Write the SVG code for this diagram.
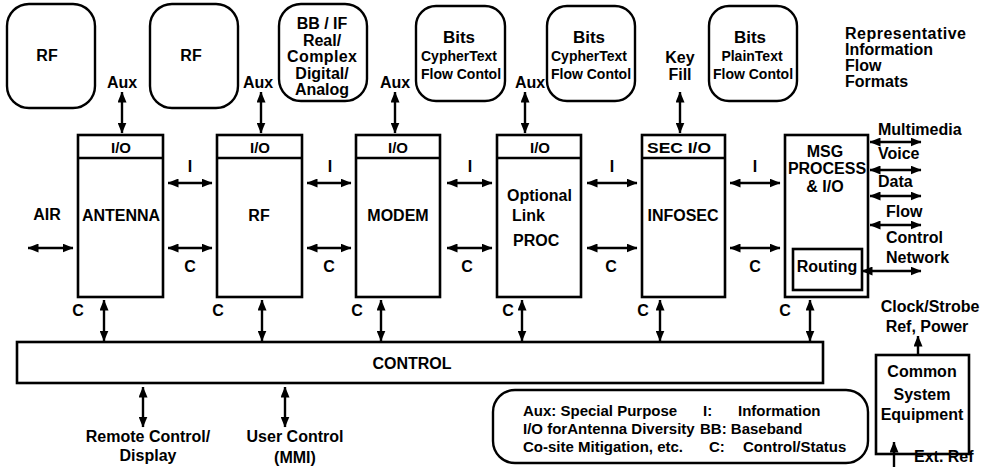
<svg xmlns="http://www.w3.org/2000/svg" width="990" height="467" viewBox="0 0 990 467">
  <style>
    text { font-family: "Liberation Sans", Arial, sans-serif; font-weight: bold; fill: #000; }
    .c { text-anchor: middle; }
    .f14 { font-size: 14px; }
    .f15 { font-size: 15px; }
    .f16 { font-size: 16px; }
    .f17 { font-size: 17px; }
    .box { fill: #fff; stroke: #000; stroke-width: 2.6; }
    .rbox { fill: #fff; stroke: #000; stroke-width: 2.4; }
    .ln { stroke: #000; stroke-width: 2.4; fill: none; }
    .both { marker-start: url(#ah); marker-end: url(#ah); }
    .end { marker-end: url(#ah); }
  </style>
  <defs>
    <marker id="ah" viewBox="0 0 11 9" refX="10.5" refY="4.5" markerWidth="11" markerHeight="9" markerUnits="userSpaceOnUse" orient="auto-start-reverse">
      <path d="M0,0 L11,4.5 L0,9 z" fill="#000"/>
    </marker>
  </defs>
  <rect width="990" height="467" fill="#fff"/>

  <!-- information format boxes along the top -->
  <g id="fmt-rf-1">
    <rect class="rbox" x="7" y="4" width="88" height="104" rx="22"/>
    <text class="f16 c" x="47" y="61">RF</text>
  </g>
  <g id="fmt-rf-2">
    <rect class="rbox" x="150" y="4" width="88" height="104" rx="22"/>
    <text class="f16 c" x="191" y="61">RF</text>
  </g>
  <g id="fmt-bb-if">
    <rect class="rbox" x="279" y="4" width="88" height="97" rx="22"/>
    <text class="f16 c" x="322" y="29">BB / IF</text>
    <text class="f16 c" x="322" y="45.5">Real/</text>
    <text class="f16 c" x="322" y="62" textLength="70">Complex</text>
    <text class="f16 c" x="322" y="78.5">Digital/</text>
    <text class="f16 c" x="322" y="95">Analog</text>
  </g>
  <g id="fmt-bits-1">
    <rect class="rbox" x="416" y="6" width="89" height="95" rx="20"/>
    <text class="f17 c" x="459" y="43">Bits</text>
    <text class="f14 c" x="459" y="61">CypherText</text>
    <text class="f14 c" x="461" y="79">Flow Contol</text>
  </g>
  <g id="fmt-bits-2">
    <rect class="rbox" x="547" y="6" width="88" height="95" rx="20"/>
    <text class="f17 c" x="589" y="43">Bits</text>
    <text class="f14 c" x="589" y="61">CypherText</text>
    <text class="f14 c" x="591" y="79">Flow Contol</text>
  </g>
  <g id="fmt-bits-3">
    <rect class="rbox" x="709" y="6" width="88" height="95" rx="20"/>
    <text class="f17 c" x="750" y="43">Bits</text>
    <text class="f14 c" x="752" y="61">PlainText</text>
    <text class="f14 c" x="753" y="79">Flow Contol</text>
  </g>
  <g id="fmt-caption">
    <text class="f16" x="845" y="39" textLength="121">Representative</text>
    <text class="f16" x="845" y="55">Information</text>
    <text class="f16" x="845" y="71">Flow</text>
    <text class="f16" x="845" y="87">Formats</text>
  </g>

  <!-- processing chain -->
  <g id="n-antenna">
    <rect class="box" x="78" y="135" width="85" height="162"/>
    <line class="ln" x1="78" y1="158" x2="163" y2="158"/>
    <text class="f15 c" x="121" y="153">I/O</text>
    <text class="f16 c" x="121" y="221">ANTENNA</text>
  </g>
  <g id="n-rf">
    <rect class="box" x="217" y="135" width="85" height="162"/>
    <line class="ln" x1="217" y1="158" x2="302" y2="158"/>
    <text class="f15 c" x="260" y="153">I/O</text>
    <text class="f16 c" x="259" y="221">RF</text>
  </g>
  <g id="n-modem">
    <rect class="box" x="356" y="135" width="84" height="162"/>
    <line class="ln" x1="356" y1="158" x2="440" y2="158"/>
    <text class="f15 c" x="398" y="153">I/O</text>
    <text class="f16 c" x="398" y="221">MODEM</text>
  </g>
  <g id="n-link">
    <rect class="box" x="497" y="135" width="84" height="162"/>
    <line class="ln" x1="497" y1="158" x2="581" y2="158"/>
    <text class="f15 c" x="540" y="153">I/O</text>
    <text class="f16" x="507" y="201">Optional</text>
    <text class="f16" x="512" y="221">Link</text>
    <text class="f16" x="513" y="246">PROC</text>
  </g>
  <g id="n-infosec">
    <rect class="box" x="642" y="135" width="83" height="162"/>
    <line class="ln" x1="642" y1="158" x2="725" y2="158"/>
    <text class="f15 c" x="679" y="153" textLength="64" lengthAdjust="spacingAndGlyphs">SEC I/O</text>
    <text class="f16 c" x="683" y="221">INFOSEC</text>
  </g>
  <g id="n-msg">
    <rect class="box" x="785" y="135" width="83" height="162"/>
    <text class="f16 c" x="825" y="157">MSG</text>
    <text class="f16 c" x="827" y="174">PROCESS</text>
    <text class="f16 c" x="825" y="192">&amp; I/O</text>
    <rect class="box" x="793" y="249" width="69" height="41"/>
    <text class="f16 c" x="827" y="272">Routing</text>
  </g>
  <g id="n-control">
    <rect class="box" x="17" y="342" width="806" height="41"/>
    <text class="f16 c" x="412" y="369">CONTROL</text>
  </g>
  <g id="n-common">
    <rect class="box" x="876" y="355" width="93" height="99"/>
    <text class="f16 c" x="922" y="377">Common</text>
    <text class="f16 c" x="922" y="400">System</text>
    <text class="f16 c" x="922" y="420">Equipment</text>
  </g>
  <g id="legend">
    <rect class="rbox" x="493" y="390" width="375" height="73" rx="22"/>
    <text class="f15" x="523" y="416">Aux: Special Purpose</text>
    <text class="f15" x="703" y="416">I:</text>
    <text class="f15" x="738" y="416">Information</text>
    <text class="f15" x="523" y="434">I/O forAntenna Diversity</text>
    <text class="f15" x="700" y="434">BB: Baseband</text>
    <text class="f15" x="523" y="452">Co-site Mitigation, etc.</text>
    <text class="f15" x="709" y="452">C:</text>
    <text class="f15" x="743" y="452">Control/Status</text>
  </g>

  <!-- connectors -->
  <g id="connectors">
    <!-- aux / key fill to top of each I/O header -->
    <line class="ln both" x1="122" y1="92" x2="122" y2="133"/>
    <line class="ln both" x1="261" y1="92" x2="261" y2="133"/>
    <line class="ln both" x1="395" y1="92" x2="395" y2="133"/>
    <line class="ln both" x1="525" y1="92" x2="525" y2="133"/>
    <line class="ln both" x1="680" y1="92" x2="680" y2="133"/>

    <!-- air interface -->
    <line class="ln both" x1="28" y1="248" x2="73" y2="248"/>

    <!-- information paths -->
    <line class="ln both" x1="168" y1="183" x2="212" y2="183"/>
    <line class="ln both" x1="307" y1="183" x2="351" y2="183"/>
    <line class="ln both" x1="447" y1="183" x2="492" y2="183"/>
    <line class="ln both" x1="587" y1="183" x2="637" y2="183"/>
    <line class="ln both" x1="730" y1="183" x2="780" y2="183"/>

    <!-- control paths -->
    <line class="ln both" x1="168" y1="248" x2="212" y2="248"/>
    <line class="ln both" x1="307" y1="248" x2="351" y2="248"/>
    <line class="ln both" x1="447" y1="248" x2="492" y2="248"/>
    <line class="ln both" x1="587" y1="248" x2="637" y2="248"/>
    <line class="ln both" x1="730" y1="248" x2="780" y2="248"/>

    <!-- message outputs -->
    <line class="ln both" x1="870" y1="142" x2="921" y2="142"/>
    <line class="ln both" x1="870" y1="170" x2="921" y2="170"/>
    <line class="ln both" x1="870" y1="196" x2="921" y2="196"/>
    <line class="ln both" x1="870" y1="225" x2="921" y2="225"/>
    <line class="ln both" x1="862" y1="271" x2="921" y2="271"/>

    <!-- status/control to CONTROL bus -->
    <line class="ln both" x1="104" y1="300" x2="104" y2="341"/>
    <line class="ln both" x1="262" y1="300" x2="262" y2="341"/>
    <line class="ln both" x1="381" y1="300" x2="381" y2="341"/>
    <line class="ln both" x1="522" y1="300" x2="522" y2="341"/>
    <line class="ln both" x1="660" y1="300" x2="660" y2="341"/>
    <line class="ln both" x1="810" y1="300" x2="810" y2="341"/>

    <!-- user side of CONTROL -->
    <line class="ln both" x1="143" y1="387" x2="143" y2="427"/>
    <line class="ln both" x1="285" y1="387" x2="285" y2="427"/>

    <!-- common equipment -->
    <line class="ln end" x1="918" y1="355" x2="918" y2="336"/>
    <line class="ln end" x1="894" y1="467" x2="894" y2="442"/>
  </g>

  <!-- connector labels -->
  <g id="labels">
    <text class="f16 c" x="122" y="88">Aux</text>
    <text class="f16 c" x="258" y="88">Aux</text>
    <text class="f16 c" x="395" y="88">Aux</text>
    <text class="f16 c" x="530" y="88">Aux</text>
    <text class="f16 c" x="680" y="63">Key</text>
    <text class="f16 c" x="680" y="80">Fill</text>

    <text class="f16 c" x="47" y="220">AIR</text>

    <text class="f16 c" x="190" y="172">I</text>
    <text class="f16 c" x="330" y="172">I</text>
    <text class="f16 c" x="470" y="172">I</text>
    <text class="f16 c" x="612" y="172">I</text>
    <text class="f16 c" x="755" y="172">I</text>

    <text class="f16 c" x="190" y="272">C</text>
    <text class="f16 c" x="329" y="272">C</text>
    <text class="f16 c" x="467" y="272">C</text>
    <text class="f16 c" x="611" y="272">C</text>
    <text class="f16 c" x="755" y="272">C</text>

    <text class="f16" x="878" y="135">Multimedia</text>
    <text class="f16" x="878" y="159">Voice</text>
    <text class="f16" x="878" y="187">Data</text>
    <text class="f16" x="886" y="217">Flow</text>
    <text class="f16" x="886" y="243">Control</text>
    <text class="f16" x="886" y="263">Network</text>

    <text class="f16 c" x="78" y="316">C</text>
    <text class="f16 c" x="218" y="316">C</text>
    <text class="f16 c" x="357" y="316">C</text>
    <text class="f16 c" x="508" y="316">C</text>
    <text class="f16 c" x="643" y="316">C</text>
    <text class="f16 c" x="785" y="316">C</text>

    <text class="f16 c" x="148" y="442">Remote Control/</text>
    <text class="f16 c" x="148" y="461">Display</text>
    <text class="f16 c" x="295" y="442">User Control</text>
    <text class="f16 c" x="295" y="463">(MMI)</text>

    <text class="f16 c" x="930" y="312">Clock/Strobe</text>
    <text class="f16 c" x="927" y="332">Ref, Power</text>
    <text class="f16" x="914" y="462">Ext. Ref</text>
  </g>
</svg>
